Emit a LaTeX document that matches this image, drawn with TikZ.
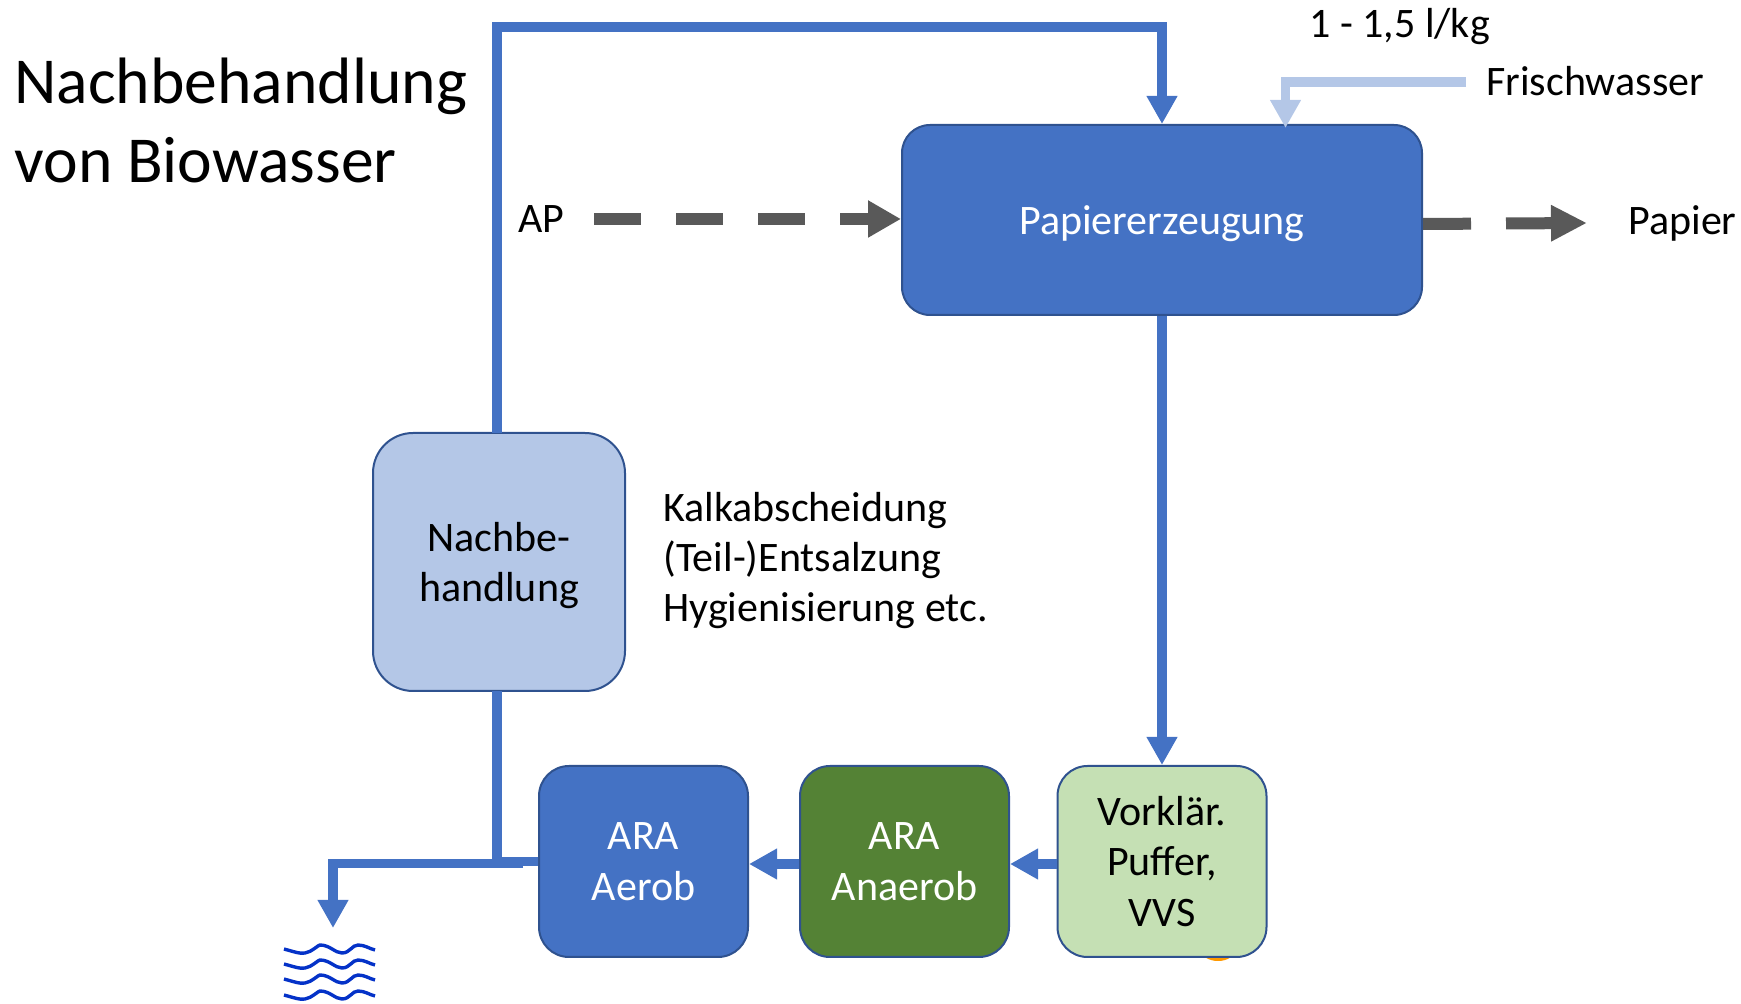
\documentclass[tikz,border=0pt]{standalone}
\usepackage{fontspec}
\setmainfont{Carlito}
\usetikzlibrary{arrows.meta}
\definecolor{mainblue}{HTML}{4472C4}
\definecolor{edgeblue}{HTML}{2F528F}
\definecolor{lightblue}{HTML}{B4C7E7}
\definecolor{darkgreen}{HTML}{548235}
\definecolor{lightgreen}{HTML}{C5E0B4}
\definecolor{flowgrey}{HTML}{595959}
\definecolor{wavecol}{HTML}{0432C8}
\tikzset{
  x=0.5pt,y=-0.5pt,
  box/.style={draw=edgeblue,line width=1pt,rounded corners=15pt,inner sep=0pt,align=center,
    font=\fontsize{21}{25.2}\selectfont},
  label/.style={inner sep=0pt,anchor=base west,align=left,font=\fontsize{21}{25.2}\selectfont},
  water/.style={draw=mainblue,line width=4.8pt,-{Triangle[length=14pt,width=14.5pt]}},
  waterplain/.style={draw=mainblue,line width=4.8pt},
  fresh/.style={draw=lightblue,line width=4.8pt,-{Triangle[length=14pt,width=14.5pt]}},
  fibre/.style={draw=flowgrey,line width=6pt,dash pattern=on 23.5pt off 17.5pt,
    -{Triangle[length=16.5pt,width=17.5pt]}},
  fibreout/.style={draw=flowgrey,line width=6pt,dash pattern=on 24pt off 17.5pt,
    -{Triangle[length=18pt,width=17pt]}},
  wave/.style={draw=wavecol,line width=1.7pt},
}
\begin{document}
\begin{tikzpicture}
\useasboundingbox (0,0) rectangle (1741,1004);
% hidden shape peeking out below the box
\fill[fill=orange!80!yellow] (1218,950) ellipse (17 and 11);
% boxes
\node[box,fill=mainblue,text=white,text depth=0pt,minimum width=260pt,minimum height=95pt,rounded corners=14pt] (papier) at (1162,220) {Papiererzeugung};
\node[box,fill=lightblue,text depth=0pt,minimum width=126pt,minimum height=129pt,rounded corners=20pt] (nach) at (499,562) {Nachbe-\\handlung};
\node[box,fill=mainblue,text=white,minimum width=104.5pt,minimum height=95.5pt] (aerob) at (643.5,861.5) {ARA\\Aerob};
\node[box,fill=darkgreen,text=white,minimum width=104.5pt,minimum height=95.5pt] (anaerob) at (904.5,861.5) {ARA\\Anaerob};
\node[box,fill=lightgreen,minimum width=104.5pt,minimum height=95.5pt] (vork) at (1162,861.5) {Vorklär.\\Puffer,\\VVS};
% labels
\node[label,font=\fontsize{32.8}{39.5}\selectfont] (title) at (14,183) {Nachbehandlung\\von Biowasser};
\node[label] (steps) at (663,622) {Kalkabscheidung\\(Teil-)Entsalzung\\Hygienisierung etc.};
\node[label] (menge) at (1309,38) {1 - 1,5 l/kg};
\node[label] (frisch) at (1486,96) {Frischwasser};
\node[label] (ap) at (518,233) {AP};
\node[label] (pap) at (1628,235) {Papier};
% free ends
\coordinate (nachtop) at (497,433);
\coordinate (nachbot) at (497,691);
\coordinate (topline) at (497,27);
\coordinate (jn) at (497,861.5);
\coordinate (jstart) at (523,863.5);
\coordinate (out) at (333,928);
\coordinate (fstart) at (1466,82);
\coordinate (fin) at (1285.5,128);
\coordinate (apstart) at (594,219);
\coordinate (papstart) at (papier.east |- 0,224);
\coordinate (papend) at (1587,223);
\coordinate (vleft) at (vork.west |- 0,864);
\coordinate (aright) at (anaerob.east |- 0,864);
\coordinate (aleft) at (anaerob.west |- 0,864);
\coordinate (aeright) at (aerob.east |- 0,864);
% connectors
\draw[water] (nachtop) -- (topline) -| (papier.north);
\draw[waterplain] (nachbot) -- (jn);
\draw[waterplain] (aerob.west) -- (jn);
\draw[water] (jstart) -| (out);
\draw[water] (papier.south) -- (vork.north);
\draw[water] (vleft) -- (aright);
\draw[water] (aleft) -- (aeright);
\draw[fresh] (fstart) -| (fin);
\draw[fibre] (apstart) -- (papier.west |- apstart);
\draw[fibreout] (papstart) -- (papend);
% water waves
\foreach \yy in {949,964,979,995}{
  \draw[wave] (284,\yy) .. controls (295,\yy+3) and (300,\yy+5) .. (305,\yy+4)
    .. controls (312,\yy+3) and (318,\yy-4) .. (320,\yy-4)
    .. controls (330,\yy-4) and (335,\yy+4) .. (342,\yy+4)
    .. controls (350,\yy+4) and (352,\yy-4) .. (358,\yy-4)
    .. controls (365,\yy-4) and (370,\yy) .. (375,\yy+1);
}
\end{tikzpicture}
\end{document}
